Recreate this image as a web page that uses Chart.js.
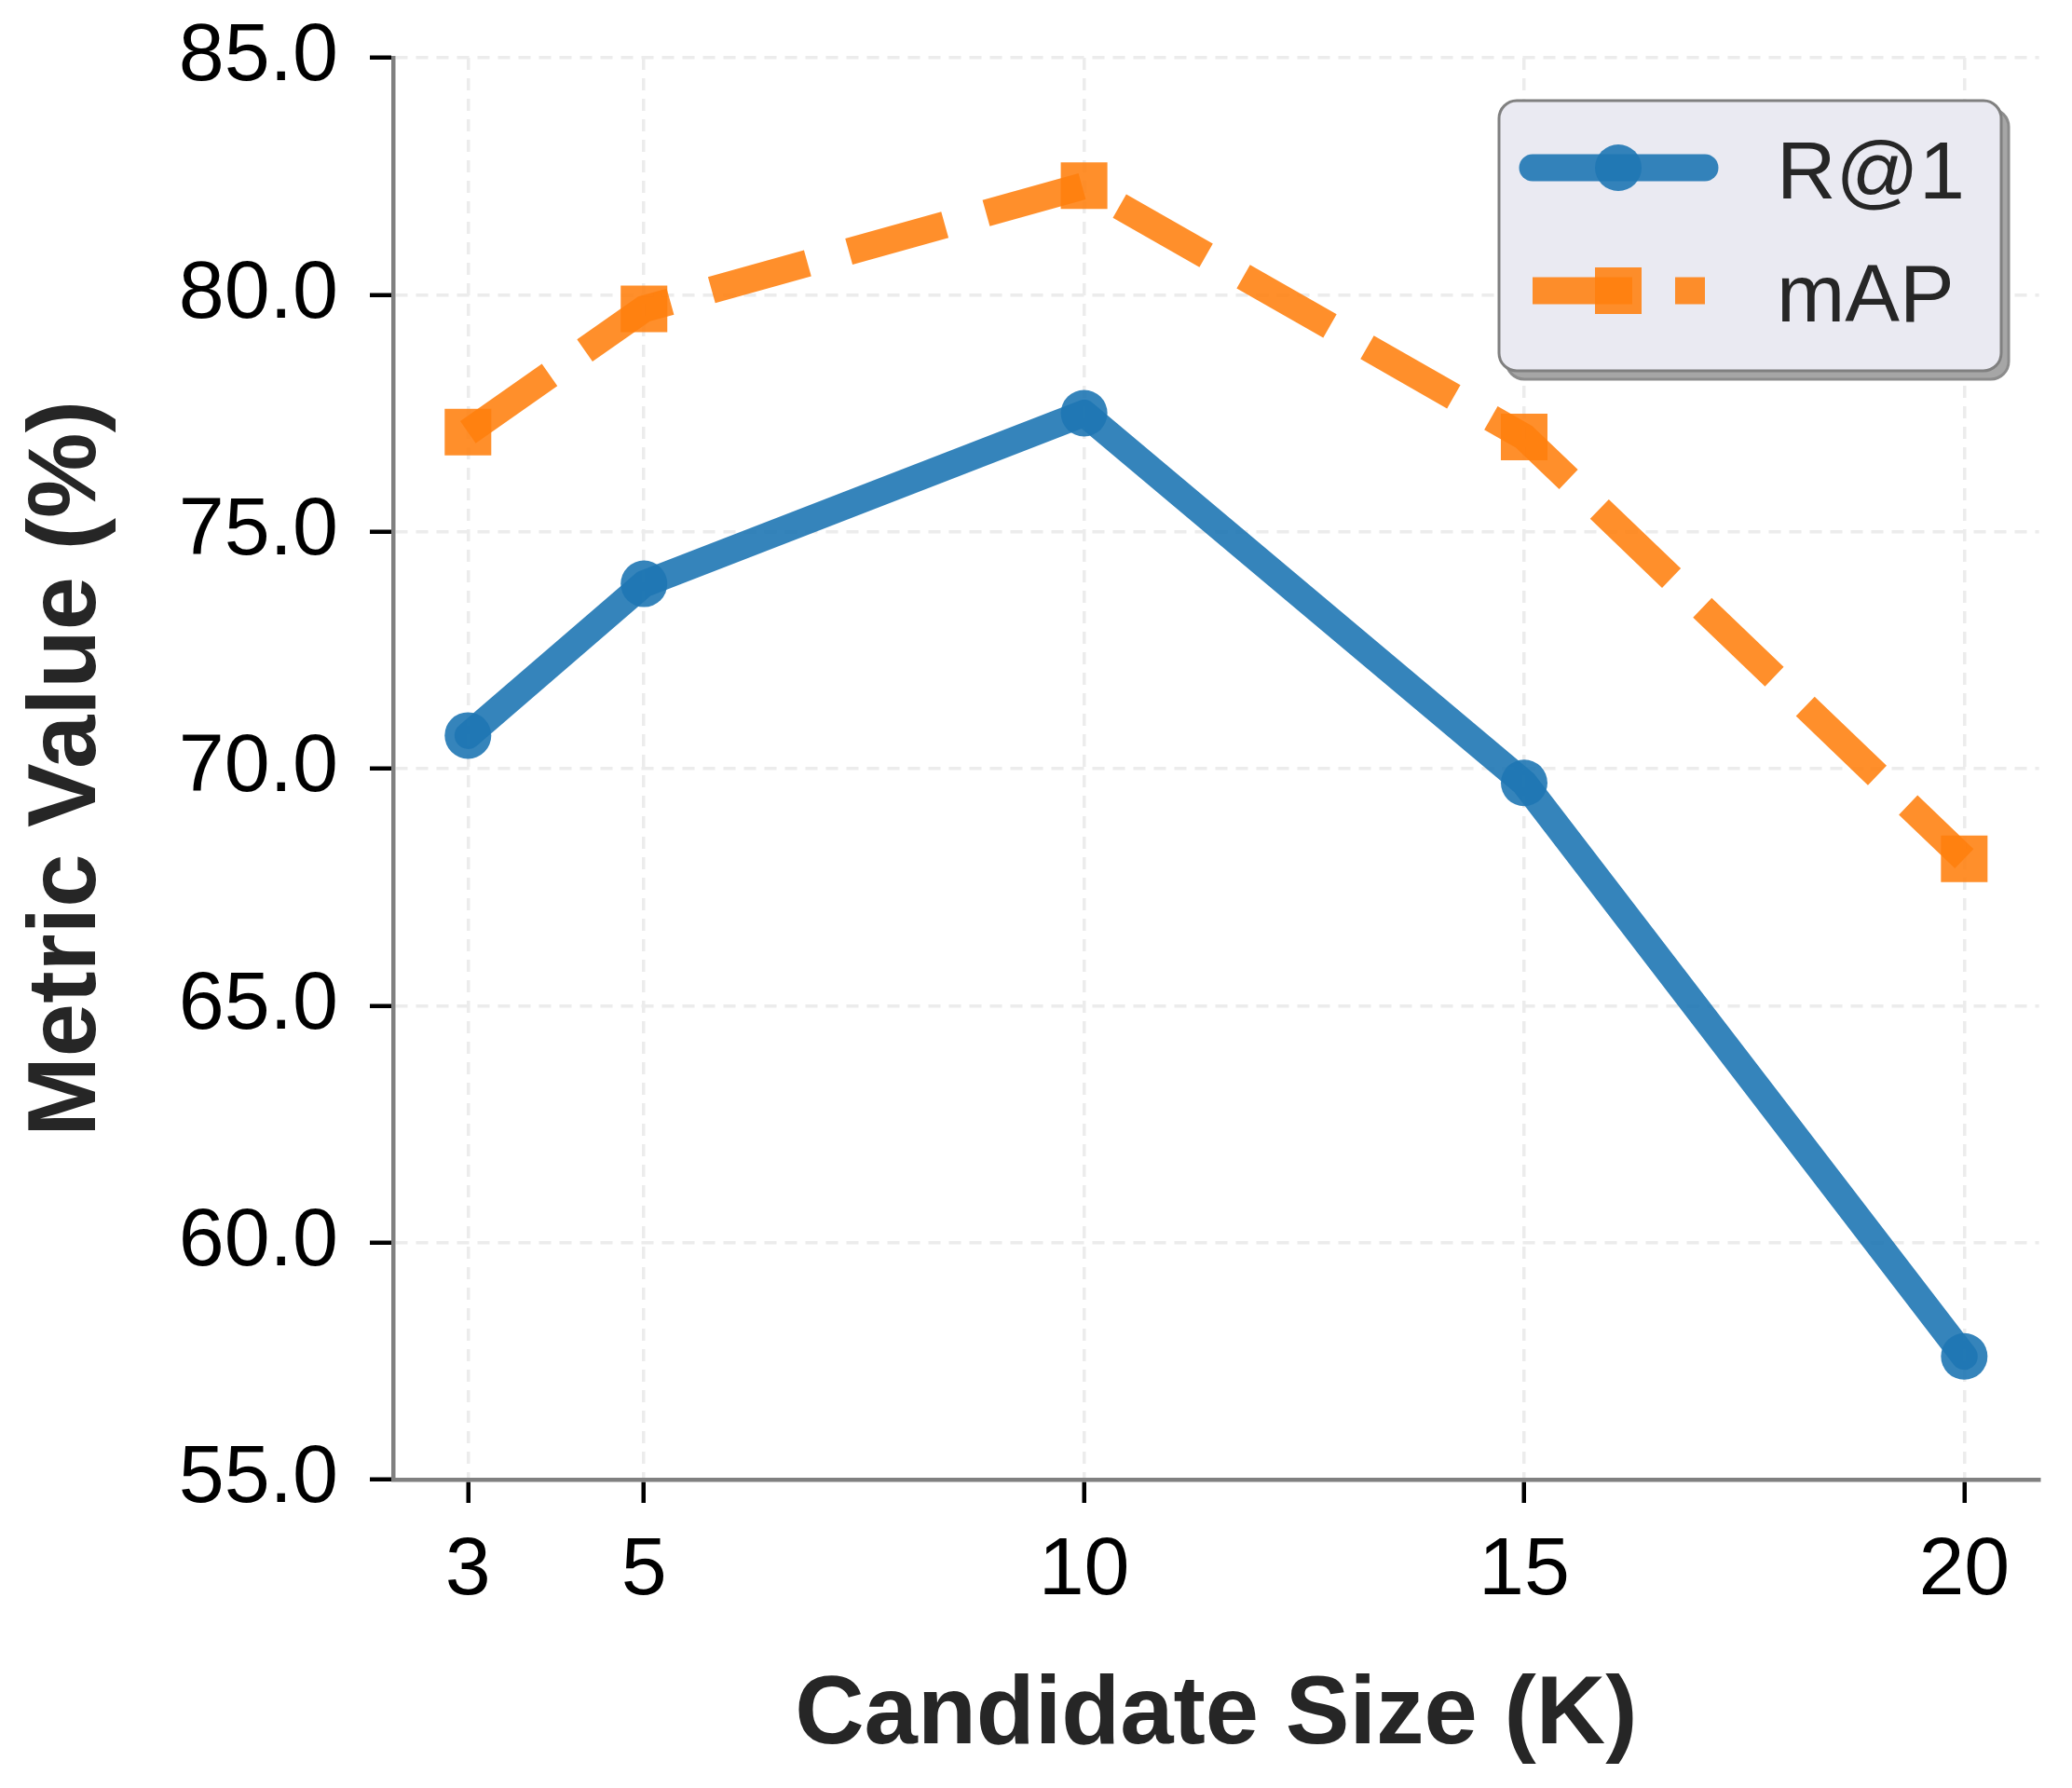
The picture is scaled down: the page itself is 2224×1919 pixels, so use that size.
<!DOCTYPE html>
<html>
<head>
<meta charset="utf-8">
<script src="https://cdn.jsdelivr.net/npm/chart.js@4.4.1/dist/chart.umd.min.js"></script>
<style>
  html, body { margin: 0; padding: 0; background: #ffffff; }
  #wrap { width: 2224px; height: 1919px; position: relative; }
</style>
</head>
<body>
<div id="wrap"><canvas id="c" width="2224" height="1919"></canvas></div>
<script>
// ---- data ----
const kValues = [3, 5, 10, 15, 20];
const r1Values = [70.7, 73.9, 77.5, 69.7, 57.6];
const mapValues = [77.1, 79.7, 82.3, 77.0, 68.1];
const yTickValues = [55, 60, 65, 70, 75, 80, 85];
const seriesLabels = ['R@1', 'mAP'];
const xAxisTitle = 'Candidate Size (K)';
const yAxisTitle = 'Metric Value (%)';

const FONT = "'Liberation Sans', Arial, sans-serif";
const BLUE = 'rgba(31,119,180,0.9)';
const ORANGE = 'rgba(255,127,14,0.88)';
const DASH = [107, 46];

const legendPlugin = {
  id: 'mplLegend',
  afterDraw(chart) {
    const ctx = chart.ctx;
    const bx = 1609, by = 108, bw = 539, bh = 290, br = 19;
    ctx.save();
    // shadow
    ctx.beginPath();
    ctx.roundRect(bx + 8, by + 9, bw, bh, br);
    ctx.fillStyle = '#a6a6a6';
    ctx.fill();
    ctx.lineWidth = 3;
    ctx.strokeStyle = '#8c8c8c';
    ctx.stroke();
    // box
    ctx.beginPath();
    ctx.roundRect(bx, by, bw, bh, br);
    ctx.fillStyle = '#EAEAF2';
    ctx.fill();
    ctx.lineWidth = 3;
    ctx.strokeStyle = '#808080';
    ctx.stroke();

    const rows = [180, 312];
    const baselines = [213, 345];
    chart.data.datasets.forEach((ds, i) => {
      const y = rows[i];
      ctx.save();
      ctx.beginPath();
      ctx.lineWidth = ds.borderWidth;
      ctx.strokeStyle = ds.borderColor;
      ctx.lineCap = ds.borderCapStyle;
      ctx.setLineDash(ds.borderDash || []);
      ctx.moveTo(1645, y);
      ctx.lineTo(1830, y);
      ctx.stroke();
      ctx.setLineDash([]);
      ctx.fillStyle = ds.pointBackgroundColor;
      ctx.beginPath();
      if (ds.pointStyle === 'rect') {
        ctx.rect(1737 - 25, y - 25, 50, 50);
      } else {
        ctx.arc(1737, y, 25, 0, Math.PI * 2);
      }
      ctx.fill();
      ctx.restore();
      ctx.fillStyle = '#262626';
      ctx.font = '88px ' + FONT;
      ctx.textAlign = 'left';
      ctx.textBaseline = 'alphabetic';
      ctx.fillText(ds.label, 1907, baselines[i]);
    });
    ctx.restore();
  }
};

new Chart(document.getElementById('c'), {
  type: 'line',
  data: {
    datasets: [
      {
        label: seriesLabels[0],
        data: kValues.map((k, i) => ({ x: k, y: r1Values[i] })),
        borderColor: BLUE,
        backgroundColor: BLUE,
        borderWidth: 29,
        borderCapStyle: 'round',
        borderJoinStyle: 'round',
        pointStyle: 'circle',
        pointRadius: 25,
        pointHoverRadius: 25,
        pointBorderWidth: 0,
        pointBackgroundColor: BLUE,
        pointBorderColor: 'rgba(0,0,0,0)',
        tension: 0,
        fill: false,
        order: 2
      },
      {
        label: seriesLabels[1],
        data: kValues.map((k, i) => ({ x: k, y: mapValues[i] })),
        borderColor: ORANGE,
        backgroundColor: ORANGE,
        borderWidth: 29,
        borderDash: DASH,
        borderCapStyle: 'butt',
        borderJoinStyle: 'miter',
        pointStyle: 'rect',
        pointRadius: 35.36,
        pointHoverRadius: 35.36,
        pointBorderWidth: 0,
        pointBackgroundColor: ORANGE,
        pointBorderColor: 'rgba(0,0,0,0)',
        tension: 0,
        fill: false,
        order: 1
      }
    ]
  },
  options: {
    responsive: false,
    animation: false,
    devicePixelRatio: 1,
    layout: { padding: { left: 0, top: 62, right: 29, bottom: 0 } },
    plugins: {
      legend: { display: false },
      tooltip: { enabled: false }
    },
    events: [],
    scales: {
      x: {
        type: 'linear',
        position: 'bottom',
        min: 2.15,
        max: 20.85,
        afterBuildTicks: (scale) => { scale.ticks = kValues.map(v => ({ value: v })); },
        afterFit: (scale) => {
          scale.height = 331;
          scale.paddingLeft = 0;
          scale.paddingRight = 0;
        },
        ticks: {
          color: '#000000',
          font: { family: FONT, size: 88 },
          padding: 21,
          autoSkip: false,
          maxRotation: 0,
          callback: (v) => String(v)
        },
        grid: {
          color: '#ececec',
          lineWidth: 3.5,
          drawTicks: true,
          tickLength: 25,
          tickColor: '#000000',
          tickWidth: 4.5,
          tickBorderDash: []
        },
        border: { display: true, color: '#808080', width: 4.5, dash: [13, 9] },
        title: {
          display: true,
          text: xAxisTitle,
          color: '#262626',
          font: { family: FONT, size: 103, weight: 'bold' },
          padding: { top: 0, bottom: 15 }
        }
      },
      y: {
        type: 'linear',
        position: 'left',
        min: 55,
        max: 85,
        afterBuildTicks: (scale) => { scale.ticks = yTickValues.map(v => ({ value: v })); },
        afterFit: (scale) => {
          scale.width = 422;
          scale.paddingTop = 0;
          scale.paddingBottom = 0;
        },
        ticks: {
          color: '#000000',
          font: { family: FONT, size: 88, lineHeight: 0.5 },
          padding: 34,
          callback: (v) => Number(v).toFixed(1)
        },
        grid: {
          color: '#ececec',
          lineWidth: 3.5,
          drawTicks: true,
          tickLength: 25,
          tickColor: '#000000',
          tickWidth: 4.5,
          tickBorderDash: []
        },
        border: { display: true, color: '#808080', width: 4.5, dash: [13, 9] },
        title: {
          display: true,
          text: yAxisTitle,
          color: '#262626',
          font: { family: FONT, size: 103, weight: 'bold' },
          padding: { top: 12, bottom: 0 }
        }
      }
    }
  },
  plugins: [legendPlugin]
});
</script>
</body>
</html>
